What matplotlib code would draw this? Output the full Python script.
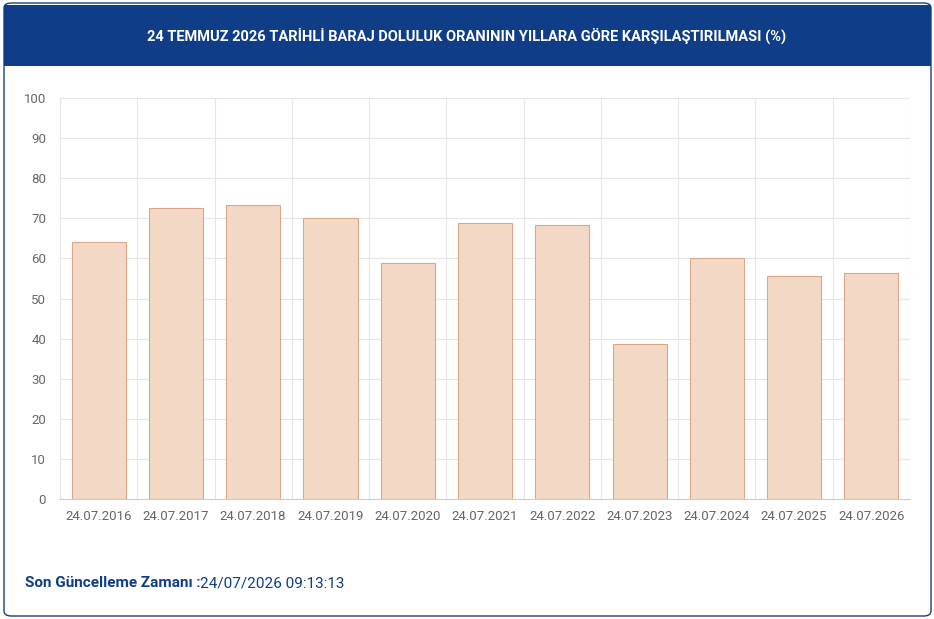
import matplotlib
matplotlib.use("Agg")
import matplotlib.pyplot as plt
from matplotlib.patches import FancyBboxPatch, Rectangle

dates = ["24.07.2016","24.07.2017","24.07.2018","24.07.2019","24.07.2020","24.07.2021",
         "24.07.2022","24.07.2023","24.07.2024","24.07.2025","24.07.2026"]
values = [64.1, 72.6, 73.3, 70.1, 58.9, 68.8, 68.3, 38.7, 60.1, 55.6, 56.4]
title = "24 TEMMUZ 2026 TARİHLİ BARAJ DOLULUK ORANININ YILLARA GÖRE KARŞILAŞTIRILMASI (%)"

W, H = 934, 619
fig = plt.figure(figsize=(W/100, H/100), dpi=100)
fig.patch.set_facecolor("white")
plt.rcParams['font.family'] = ['Roboto', 'DejaVu Sans']

card = FancyBboxPatch((4/W, 3/H), 927/W, 613/H, boxstyle="round,pad=0,rounding_size=0.008",
                      transform=fig.transFigure, facecolor="white", edgecolor="#1b3f7a", lw=1,
                      zorder=-10)
fig.patches.append(card)
hdr = Rectangle((4/W, (H-66)/H), 927/W, 61/H, transform=fig.transFigure,
                facecolor="#0f3d87", edgecolor="none", zorder=-9)
fig.patches.append(hdr)
fig.text(0.5, (H-36)/H, title, color="white", fontsize=10.5, fontweight="bold",
         ha="center", va="center")

ax = fig.add_axes([60/W, (H-499)/H, 850/W, 401/H])
ax.set_zorder(5)
ax.patch.set_alpha(0)
x = range(len(dates))
ax.bar(x, values, width=0.7, color="#f4d8c6", edgecolor="#dba687", lw=0.8)
ax.set_xlim(-0.5, len(dates)-0.5)
ax.set_ylim(0, 100)
ax.set_yticks(range(0, 101, 10))
ax.set_xticks(list(x))
ax.set_xticklabels(dates)
ax.set_xticks([i+0.5 for i in range(-1, len(dates))], minor=True)
ax.grid(True, which="minor", axis="x", color="#e6e6e6", lw=0.8)
ax.grid(True, which="major", axis="y", color="#e6e6e6", lw=0.8)
ax.set_axisbelow(True)
ax.tick_params(axis="both", which="both", length=0, colors="#666666", labelsize=9.5)
ax.tick_params(axis="x", which="major", pad=8)
ax.tick_params(axis="y", pad=10)
for s in ax.spines.values():
    s.set_visible(False)
ax.spines["bottom"].set_visible(True)
ax.spines["bottom"].set_color("#cccccc")
ax.spines["left"].set_visible(True)
ax.spines["left"].set_color("#e6e6e6")

fig.text(25/W, (H-583)/H, "Son Güncelleme Zamanı :", color="#0f3d87", fontsize=11,
         fontweight="bold", va="center")
fig.text(200/W, (H-583)/H, "24/07/2026 09:13:13", color="#0f3d87", fontsize=11, va="center")

fig.savefig("out.png", dpi=100)
